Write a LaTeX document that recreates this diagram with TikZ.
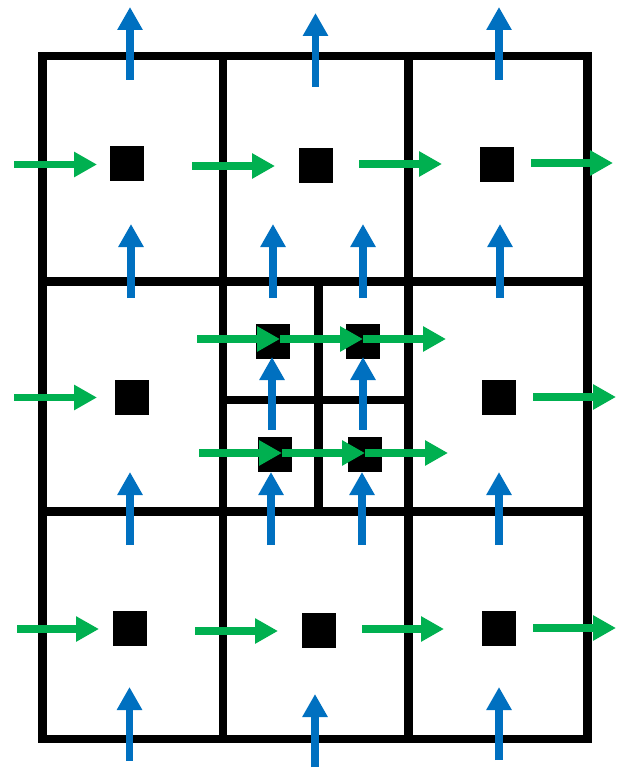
\documentclass[tikz,border=0pt]{standalone}
\usetikzlibrary{arrows.meta}
\definecolor{arrblue}{HTML}{0070C0}
\definecolor{arrgreen}{HTML}{00B050}
\tikzset{
  gridline/.style={draw=black, line width=8.5pt},
  cellpt/.style={fill=black, draw=none, minimum width=34pt, minimum height=35pt, inner sep=0pt, outer sep=0pt},
  flowg/.style={draw=arrgreen, line width=7.5pt, -{Triangle[length=23pt,width=24pt]}},
  flowb/.style={draw=arrblue, line width=7.5pt, -{Triangle[length=23pt,width=24pt]}}
}
\begin{document}
\begin{tikzpicture}[x=1pt,y=-1pt]
\useasboundingbox (0,0) rectangle (618,770);
% grid corners
\coordinate (tl) at (42.5,56);
\coordinate (br) at (587.5,739);
\coordinate (v1t) at (223,56);   \coordinate (v1b) at (223,739);
\coordinate (v2t) at (408.5,56); \coordinate (v2b) at (408.5,739);
\coordinate (h1l) at (42.5,281.5); \coordinate (h1r) at (587.5,281.5);
\coordinate (h2l) at (42.5,511.5); \coordinate (h2r) at (587.5,511.5);
\coordinate (svt) at (318.5,281.5); \coordinate (svb) at (318.5,511.5);
\coordinate (shl) at (223,400);   \coordinate (shr) at (408.5,400);
\draw[gridline] (tl) rectangle (br);
\draw[gridline] (v1t) -- (v1b);
\draw[gridline] (v2t) -- (v2b);
\draw[gridline] (h1l) -- (h1r);
\draw[gridline] (h2l) -- (h2r);
\draw[gridline] (svt) -- (svb);
\draw[gridline] (shl) -- (shr);
% cell points
\node[cellpt] (s11) at (127,163.5) {};
\node[cellpt] (s12) at (315.5,165.5) {};
\node[cellpt] (s13) at (497,164.5) {};
\node[cellpt] (s21) at (132,397.5) {};
\node[cellpt] (s23) at (499,397.5) {};
\node[cellpt] (sa) at (273,341.5) {};
\node[cellpt] (sb) at (363,341.5) {};
\node[cellpt] (sc) at (275,454.5) {};
\node[cellpt] (sd) at (365,454.5) {};
\node[cellpt] (s31) at (129.5,628.5) {};
\node[cellpt] (s32) at (318.5,630.5) {};
\node[cellpt] (s33) at (499,628.5) {};
% green arrow end points
\coordinate (g1a) at (14,164.5);  \coordinate (g1b) at (97,164.5);
\coordinate (g2a) at (192,166);   \coordinate (g2b) at (275,166);
\coordinate (g3a) at (359,164);   \coordinate (g3b) at (442,164);
\coordinate (g4a) at (531,163);   \coordinate (g4b) at (613,163);
\coordinate (g5a) at (14,397.5);  \coordinate (g5b) at (97,397.5);
\coordinate (g6a) at (533,397);   \coordinate (g6b) at (616,397);
\coordinate (g7a) at (197,339);   \coordinate (g7b) at (280,339);
\coordinate (g8b) at (363,339);   \coordinate (g9b) at (446,339);
\coordinate (g10a) at (199,453);  \coordinate (g10b) at (282,453);
\coordinate (g11b) at (365,453);  \coordinate (g12b) at (448,453);
\coordinate (g13a) at (17,629);   \coordinate (g13b) at (99,629);
\coordinate (g14a) at (195,631);  \coordinate (g14b) at (278,631);
\coordinate (g15a) at (362,629);  \coordinate (g15b) at (444,629);
\coordinate (g16a) at (533,628);  \coordinate (g16b) at (616,628);
% blue arrow end points
\coordinate (b1a) at (130,80);    \coordinate (b1b) at (130,7);
\coordinate (b2a) at (315.5,87);  \coordinate (b2b) at (315.5,13);
\coordinate (b3a) at (499,80);    \coordinate (b3b) at (499,7);
\coordinate (b4a) at (131,298);   \coordinate (b4b) at (131,224);
\coordinate (b5a) at (273,298);   \coordinate (b5b) at (273,224);
\coordinate (b6a) at (363,298);   \coordinate (b6b) at (363,224);
\coordinate (b7a) at (500,298);   \coordinate (b7b) at (500,224);
\coordinate (b8a) at (272,430);   \coordinate (b8b) at (272,357);
\coordinate (b9a) at (363,430);   \coordinate (b9b) at (363,357);
\coordinate (b10a) at (130,545);  \coordinate (b10b) at (130,472);
\coordinate (b11a) at (271,545);  \coordinate (b11b) at (271,472);
\coordinate (b12a) at (362,545);  \coordinate (b12b) at (362,472);
\coordinate (b13a) at (499,545);  \coordinate (b13b) at (499,472);
\coordinate (b14a) at (129.5,761); \coordinate (b14b) at (129.5,687);
\coordinate (b15a) at (315,767);  \coordinate (b15b) at (315,694);
\coordinate (b16a) at (499,760);  \coordinate (b16b) at (499,687);
% blue arrows
\foreach \i in {1,...,16} \draw[flowb] (b\i a) -- (b\i b);
% green arrows
\draw[flowg] (g1a) -- (g1b);
\draw[flowg] (g2a) -- (g2b);
\draw[flowg] (g3a) -- (g3b);
\draw[flowg] (g4a) -- (g4b);
\draw[flowg] (g5a) -- (g5b);
\draw[flowg] (g6a) -- (g6b);
\draw[flowg] (g7a) -- (g7b);
\draw[flowg] (g7b) -- (g8b);
\draw[flowg] (g8b) -- (g9b);
\draw[flowg] (g10a) -- (g10b);
\draw[flowg] (g10b) -- (g11b);
\draw[flowg] (g11b) -- (g12b);
\draw[flowg] (g13a) -- (g13b);
\draw[flowg] (g14a) -- (g14b);
\draw[flowg] (g15a) -- (g15b);
\draw[flowg] (g16a) -- (g16b);
\end{tikzpicture}
\end{document}
